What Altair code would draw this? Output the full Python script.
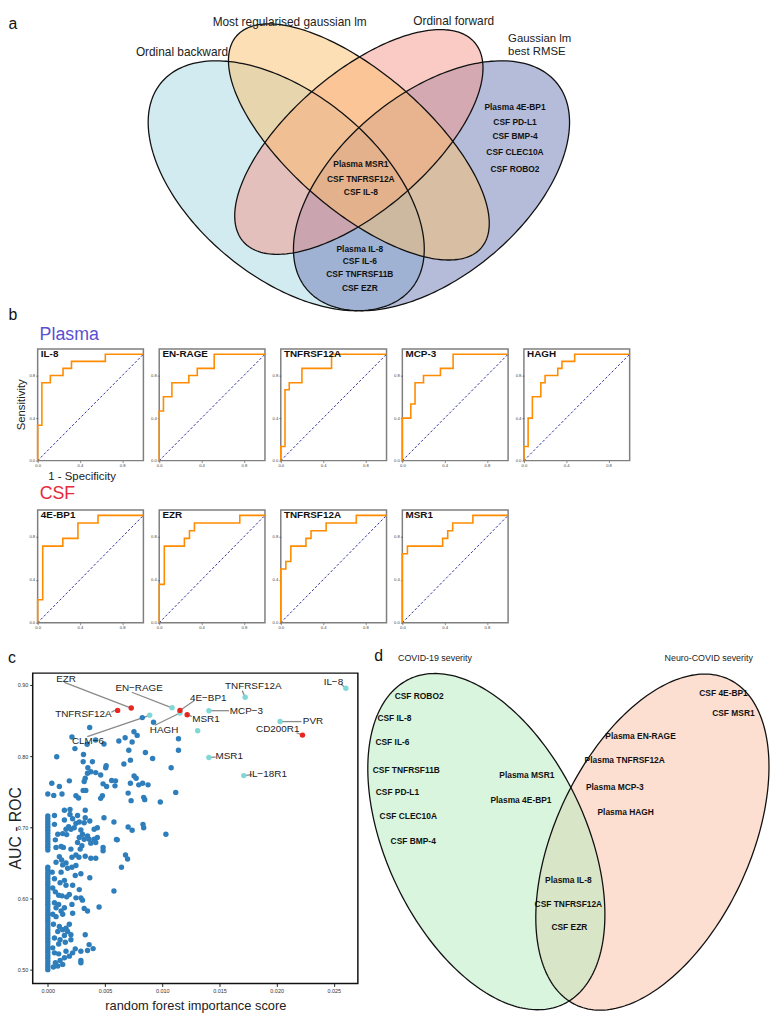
import altair as alt
import numpy as np
import pandas as pd

SANS = "Liberation Sans, Arial, sans-serif"
NARROW = "Liberation Sans Narrow, Liberation Sans, Arial, sans-serif"

# ---------------- panel a : four-set Venn (VennDiagram-style units) ----------------
venn_a_sets = ["Ordinal backward", "Gaussian lm best RMSE", "Ordinal forward", "Most regularised gaussian lm"]
venn_a_cx = [0.35, 0.65, 0.50, 0.50]
venn_a_cy = [0.47, 0.47, 0.57, 0.57]
venn_a_a = [0.35, 0.35, 0.33, 0.35]
venn_a_b = [0.20, 0.20, 0.15, 0.15]
venn_a_rot = [-45, 45, 45, -45]
venn_a_fill = ["#a6d8e2", "#6c79b6", "#f5968a", "#fbc06c"]
venn_a_alpha = [0.5, 0.5, 0.5, 0.5]

venn_a_set_labels = ["Ordinal backward", "Most regularised gaussian lm", "Ordinal forward"]
venn_a_set_x = [0.1347, 0.3571, 0.6959]
venn_a_set_y = [0.7746, 0.8440, 0.8463]
venn_a_rmse_labels = ["Gaussian lm", "best RMSE"]
venn_a_rmse_x = [0.8082, 0.8082]
venn_a_rmse_y = [0.8050, 0.7752]

venn_a_items = ["Plasma MSR1", "CSF TNFRSF12A", "CSF IL-8",
                "Plasma IL-8", "CSF IL-6", "CSF TNFRSF11B", "CSF EZR",
                "Plasma 4E-BP1", "CSF PD-L1", "CSF BMP-4", "CSF CLEC10A", "CSF ROBO2"]
venn_a_item_x = [0.5041, 0.5041, 0.5041, 0.502, 0.502, 0.502, 0.502,
                 0.8224, 0.8224, 0.8224, 0.8224, 0.8224]
venn_a_item_y = [0.5194, 0.4856, 0.4563, 0.3255, 0.2985, 0.2692, 0.2376,
                 0.6501, 0.6163, 0.5825, 0.5464, 0.5081]

# ---------------- panel b : ROC curves ----------------
roc_il8_fpr = [0, 0, 0.04, 0.04, 0.12, 0.12, 0.24, 0.24, 0.32, 0.32, 0.64, 0.64, 1]
roc_il8_tpr = [0, 0.333, 0.333, 0.733, 0.733, 0.8, 0.8, 0.867, 0.867, 0.933, 0.933, 1, 1]
roc_enrage_fpr = [0, 0, 0.04, 0.04, 0.12, 0.12, 0.28, 0.28, 0.36, 0.36, 0.52, 0.52, 1]
roc_enrage_tpr = [0, 0.467, 0.467, 0.6, 0.6, 0.733, 0.733, 0.8, 0.8, 0.867, 0.867, 1, 1]
roc_tnf_p_fpr = [0, 0, 0.04, 0.04, 0.08, 0.08, 0.2, 0.2, 0.48, 0.48, 1]
roc_tnf_p_tpr = [0, 0.133, 0.133, 0.667, 0.667, 0.733, 0.733, 0.867, 0.867, 1, 1]
roc_mcp3_fpr = [0, 0, 0.08, 0.08, 0.12, 0.12, 0.2, 0.2, 0.36, 0.36, 0.48, 0.48, 1]
roc_mcp3_tpr = [0, 0.4, 0.4, 0.533, 0.533, 0.733, 0.733, 0.8, 0.8, 0.867, 0.867, 1, 1]
roc_hagh_fpr = [0, 0, 0.04, 0.04, 0.08, 0.08, 0.16, 0.16, 0.2, 0.2, 0.32, 0.32, 0.36, 0.36, 0.48, 0.48, 1]
roc_hagh_tpr = [0, 0.133, 0.133, 0.4, 0.4, 0.6, 0.6, 0.733, 0.733, 0.8, 0.8, 0.867, 0.867, 0.933, 0.933, 1, 1]

roc_4ebp1_fpr = [0, 0, 0.048, 0.048, 0.238, 0.238, 0.381, 0.381, 0.571, 0.571, 1]
roc_4ebp1_tpr = [0, 0.214, 0.214, 0.714, 0.714, 0.786, 0.786, 0.929, 0.929, 1, 1]
roc_ezr_fpr = [0, 0, 0.048, 0.048, 0.238, 0.238, 0.286, 0.286, 0.333, 0.333, 0.762, 0.762, 1]
roc_ezr_tpr = [0, 0.357, 0.357, 0.714, 0.714, 0.786, 0.786, 0.857, 0.857, 0.929, 0.929, 1, 1]
roc_tnf_c_fpr = [0, 0, 0.048, 0.048, 0.095, 0.095, 0.238, 0.238, 0.286, 0.286, 0.429, 0.429, 0.714, 0.714, 1]
roc_tnf_c_tpr = [0, 0.5, 0.5, 0.571, 0.571, 0.714, 0.714, 0.786, 0.786, 0.857, 0.857, 0.929, 0.929, 1, 1]
roc_msr1_fpr = [0, 0, 0.048, 0.048, 0.381, 0.381, 0.429, 0.429, 0.476, 0.476, 0.667, 0.667, 1]
roc_msr1_tpr = [0, 0.643, 0.643, 0.714, 0.714, 0.786, 0.786, 0.857, 0.857, 0.929, 0.929, 1, 1]

roc_ticks = [0.0, 0.2, 0.4, 0.6, 0.8, 1.0]

# ---------------- panel c : scatter ----------------
blue_points = [
    (0.00211, 0.8269), (0.00237, 0.8106), (0.00312, 0.8023), (0.00078, 0.7991), (0.00390, 0.7921),
    (0.00309, 0.7921), (0.00350, 0.7838), (0.00506, 0.7838), (0.00510, 0.7866), (0.00376, 0.7782),
    (0.00419, 0.7769), (0.00462, 0.7736), (0.00347, 0.7759), (0.00327, 0.7690), (0.00188, 0.7653),
    (0.00035, 0.7620), (0.00101, 0.7574), (0.00318, 0.7644), (0.00309, 0.7519), (0.00332, 0.7519),
    (0.00483, 0.7611), (0.00514, 0.7574), (0.00558, 0.7657), (0.00592, 0.7653), (0.00587, 0.7583),
    (0.00477, 0.7444), (0.00462, 0.7407), (0.00246, 0.7444), (0.00269, 0.7412), (0.00124, 0.7468),
    (0.00052, 0.7449), (0.00000, 0.7468), (0.00665, 0.7889), (0.00708, 0.8083), (0.00737, 0.8199),
    (0.00676, 0.8259), (0.00621, 0.8213), (0.00722, 0.7944), (0.00853, 0.8051), (0.00916, 0.7968),
    (0.00754, 0.7722), (0.00772, 0.7690), (0.00722, 0.7620), (0.00795, 0.7597), (0.00829, 0.7620),
    (0.00876, 0.7597), (0.00702, 0.7481), (0.00728, 0.7375), (0.00838, 0.7421), (0.00847, 0.7389),
    (0.00983, 0.7356), (0.01118, 0.7491), (0.01078, 0.7838), (0.01142, 0.8245), (0.01142, 0.8083),
    (0.00826, 0.8542), (0.00924, 0.8477), (0.00366, 0.8403), (0.00753, 0.8343), (0.00781, 0.8292),
    (0.00344, 0.8167), (0.00491, 0.8171), (0.00418, 0.8227),
    (0.00058, 0.7167), (0.00058, 0.7042), (0.00145, 0.7241), (0.00194, 0.7250), (0.00194, 0.7181),
    (0.00145, 0.7102), (0.00217, 0.7120), (0.00260, 0.7167), (0.00275, 0.7074), (0.00246, 0.7056),
    (0.00182, 0.7009), (0.00159, 0.6972), (0.00202, 0.6972), (0.00231, 0.6995), (0.00327, 0.7241),
    (0.00327, 0.7134), (0.00318, 0.7065), (0.00289, 0.6963), (0.00367, 0.7088), (0.00405, 0.6972),
    (0.00433, 0.6995), (0.00491, 0.7134), (0.00087, 0.6903), (0.00130, 0.6912), (0.00165, 0.6898),
    (0.00066, 0.6824), (0.00116, 0.6731), (0.00072, 0.6718), (0.00136, 0.6718), (0.00303, 0.6903),
    (0.00318, 0.6833), (0.00347, 0.6880), (0.00361, 0.6833), (0.00376, 0.6778), (0.00405, 0.6833),
    (0.00433, 0.6856), (0.00419, 0.6787), (0.00275, 0.6856), (0.00260, 0.6787), (0.00298, 0.6741),
    (0.00202, 0.6694), (0.00283, 0.6694), (0.00483, 0.6718), (0.00483, 0.6671), (0.00578, 0.7074),
    (0.00607, 0.6824), (0.00702, 0.7005), (0.00737, 0.6958), (0.00832, 0.7042), (0.00838, 0.6995),
    (0.01032, 0.6903), (0.00679, 0.6611), (0.00697, 0.6556), (0.00644, 0.6440),
    (0.00101, 0.6588), (0.00121, 0.6542), (0.00072, 0.6509), (0.00130, 0.6472), (0.00159, 0.6500),
    (0.00211, 0.6579), (0.00246, 0.6611), (0.00272, 0.6579), (0.00327, 0.6593), (0.00376, 0.6565),
    (0.00419, 0.6565), (0.00173, 0.6426), (0.00211, 0.6440), (0.00246, 0.6463), (0.00240, 0.6324),
    (0.00289, 0.6347), (0.00367, 0.6292), (0.00038, 0.6370), (0.00058, 0.6278), (0.00116, 0.6370),
    (0.00107, 0.6222), (0.00145, 0.6255), (0.00159, 0.6185), (0.00217, 0.6185), (0.00275, 0.6125),
    (0.00578, 0.6106), (0.00043, 0.6148), (0.00066, 0.6093), (0.00095, 0.6046), (0.00124, 0.6037),
    (0.00165, 0.6023), (0.00188, 0.6055), (0.00246, 0.6009), (0.00289, 0.6009), (0.00211, 0.5917),
    (0.00303, 0.5977), (0.00318, 0.5861), (0.00347, 0.5824), (0.00448, 0.5880), (0.00058, 0.5940),
    (0.00095, 0.5917), (0.00072, 0.5870), (0.00145, 0.5870), (0.00116, 0.5824), (0.00043, 0.5778),
    (0.00072, 0.5745), (0.00130, 0.5778), (0.00217, 0.5792), (0.00049, 0.5639), (0.00101, 0.5606),
    (0.00130, 0.5560), (0.00087, 0.5537), (0.00159, 0.5583), (0.00188, 0.5639), (0.00173, 0.5537),
    (0.00202, 0.5491), (0.00145, 0.5481), (0.00058, 0.5444), (0.00107, 0.5421), (0.00095, 0.5361),
    (0.00153, 0.5384), (0.00202, 0.5421), (0.00327, 0.5491), (0.00361, 0.5352), (0.00396, 0.5296),
    (0.00289, 0.5259), (0.00347, 0.5268), (0.00240, 0.5292), (0.00217, 0.5236), (0.00188, 0.5190),
    (0.00145, 0.5167), (0.00107, 0.5130), (0.00066, 0.5097), (0.00049, 0.5037), (0.00087, 0.5051),
    (0.00130, 0.5074), (0.00289, 0.5130), (0.00289, 0.5097), (0.00043, 0.5306), (0.00058, 0.5236),
    (0.00095, 0.5222), (0.00159, 0.5259), (0.00600, 0.6829),
]
zero_importance_auc = [
    0.500, 0.504, 0.508, 0.512, 0.516, 0.520, 0.524, 0.528, 0.532, 0.536, 0.540, 0.544, 0.548,
    0.552, 0.556, 0.560, 0.564, 0.568, 0.572, 0.576, 0.580, 0.584, 0.588, 0.592, 0.596, 0.600,
    0.604, 0.608, 0.612, 0.616, 0.620, 0.624, 0.628, 0.632, 0.636, 0.640, 0.644, 0.668, 0.672,
    0.676, 0.680, 0.684, 0.688, 0.692, 0.696, 0.700, 0.704, 0.708, 0.712, 0.716,
]
cyan_points = [(0.01086, 0.8680), (0.01155, 0.8607), (0.00890, 0.8574), (0.01310, 0.8357),
               (0.01408, 0.8639), (0.01725, 0.8829), (0.02605, 0.8954), (0.02030, 0.8486),
               (0.01408, 0.7982), (0.01713, 0.7727)]
red_points = [(0.00729, 0.8676), (0.00610, 0.8643), (0.01155, 0.8643), (0.01218, 0.8583), (0.02226, 0.8296)]

lab_text = ["EZR", "EN\u2212RAGE", "TNFRSF12A", "4E\u2212BP1", "HAGH", "MSR1", "MCP\u22123",
            "TNFRSF12A", "IL\u22128", "PVR", "CD200R1", "MSR1", "IL\u221218R1", "CLM\u22126"]
lab_x = [0.00159, 0.00798, 0.00311, 0.01402, 0.01016, 0.01382, 0.01736,
         0.01796, 0.02496, 0.02318, 0.02010, 0.01586, 0.01926, 0.00351]
lab_y = [0.9083, 0.8958, 0.8588, 0.8820, 0.8365, 0.8518, 0.8639,
         0.8990, 0.9037, 0.8496, 0.8379, 0.8004, 0.7750, 0.8218]
arr_x0 = [0.00144, 0.00734, 0.00555, 0.01281, 0.00936, 0.01258, 0.01584,
          0.01699, 0.02562, 0.02217, 0.02174, 0.01468, 0.01785, 0.00345]
arr_y0 = [0.9037, 0.8898, 0.8617, 0.8782, 0.8435, 0.8560, 0.8639,
          0.8921, 0.9014, 0.8486, 0.8329, 0.7986, 0.7741, 0.8274]
arr_x1 = [0.00729, 0.01086, 0.00585, 0.01155, 0.01155, 0.01218, 0.01408,
          0.01725, 0.02605, 0.02030, 0.02226, 0.01408, 0.01713, 0.00890]
arr_y1 = [0.8676, 0.8680, 0.8643, 0.8643, 0.8607, 0.8583, 0.8639,
          0.8829, 0.8954, 0.8486, 0.8296, 0.7982, 0.7727, 0.8574]

# ---------------- panel d : two-set Venn (layout units) ----------------
venn_d_sets = ["Neuro-COVID severity", "COVID-19 severity"]
venn_d_cx = [660, 492]
venn_d_cy = [840, 839.5]
venn_d_a = [182, 182]
venn_d_b = [98.5, 101]
venn_d_rot = [115.1, 64.7]
venn_d_fill = ["#fbbfa5", "#b4ecbc"]
venn_d_alpha = [0.5, 0.5]
venn_d_titles = ["COVID-19 severity", "Neuro-COVID severity"]
venn_d_items = ["CSF ROBO2", "CSF IL-8", "CSF IL-6", "CSF TNFRSF11B", "CSF PD-L1", "CSF CLEC10A",
                "CSF BMP-4", "Plasma MSR1", "Plasma 4E-BP1", "Plasma IL-8", "CSF TNFRSF12A", "CSF EZR",
                "CSF 4E-BP1", "CSF MSR1", "Plasma EN-RAGE", "Plasma TNFRSF12A", "Plasma MCP-3", "Plasma HAGH"]
venn_d_item_x = [424, 399, 397, 411, 402, 413, 418, 533, 527, 575, 575, 576, 732, 742, 648, 632, 622, 633]
venn_d_item_y = [692, 714, 739, 767, 789, 814, 839, 772, 797, 878, 903, 926, 689, 709, 733, 757, 784, 810]


# ---------------- helpers ----------------
def sc(lo, hi, reverse=False):
    return alt.Scale(domain=[lo, hi], nice=False, zero=False, reverse=reverse)


def ellipse_df(cx, cy, a, b, rot):
    t = np.linspace(0, 2 * np.pi, 241)
    ph = np.deg2rad(rot)
    return pd.DataFrame({
        "x": cx + a * np.cos(t) * np.cos(ph) - b * np.sin(t) * np.sin(ph),
        "y": cy + a * np.cos(t) * np.sin(ph) + b * np.sin(t) * np.cos(ph),
        "k": np.arange(len(t)),
    })


def ellipse_layers(cxs, cys, As, Bs, rots, fills, alphas, xs, ys):
    fl, ol = [], []
    for cx, cy, a, b, r, f, al in zip(cxs, cys, As, Bs, rots, fills, alphas):
        d = ellipse_df(cx, cy, a, b, r)
        enc = dict(x=alt.X("x:Q", scale=xs, axis=None), y=alt.Y("y:Q", scale=ys, axis=None), order="k:Q")
        fl.append(alt.Chart(d).mark_line(fill=f, fillOpacity=al, strokeWidth=0).encode(**enc))
        ol.append(alt.Chart(d).mark_line(stroke="#111111", strokeWidth=1.3, strokeJoin="round").encode(**enc))
    return fl + ol


def text_layer(labels, xs_, ys_, xs, ys, **mk):
    d = pd.DataFrame({"t": labels, "x": xs_, "y": ys_})
    return alt.Chart(d).mark_text(**mk).encode(
        x=alt.X("x:Q", scale=xs, axis=None), y=alt.Y("y:Q", scale=ys, axis=None), text="t:N")


def spacer(w, h, labels=None, lx=None, ly=None, **mk):
    xs, ys = sc(0, w), sc(0, h, reverse=True)
    if labels:
        ch = text_layer(labels, lx, ly, xs, ys, **mk)
    else:
        ch = alt.Chart(pd.DataFrame({"x": [w / 2], "y": [h / 2]})).mark_point(opacity=0, size=1).encode(
            x=alt.X("x:Q", scale=xs, axis=None), y=alt.Y("y:Q", scale=ys, axis=None))
    return ch.properties(width=w, height=h)


# ---------------- row A (panel a, plus "b" / "Plasma") ----------------
ax = sc(-0.2245, 1.3306)
ay = sc(0.1001, 0.8553)
rowA = alt.layer(
    *ellipse_layers(venn_a_cx, venn_a_cy, venn_a_a, venn_a_b, venn_a_rot, venn_a_fill, venn_a_alpha, ax, ay),
    text_layer(venn_a_set_labels, venn_a_set_x, venn_a_set_y, ax, ay,
               font=NARROW, fontSize=12, color="#222222"),
    text_layer(venn_a_rmse_labels, venn_a_rmse_x, venn_a_rmse_y, ax, ay,
               font=NARROW, fontSize=11.5, color="#222222", align="left"),
    text_layer(venn_a_items, venn_a_item_x, venn_a_item_y, ax, ay,
               font=NARROW, fontSize=8.5, fontWeight="bold", color="#111111"),
    text_layer(["a", "b"], [-0.2143, -0.2143], [0.8395, 0.1745], ax, ay,
               font=SANS, fontSize=16, color="#111111"),
    text_layer(["Plasma"], [-0.1592], [0.1294], ax, ay,
               font=SANS, fontSize=18, color="#5b50d0", align="left"),
).properties(width=762, height=335)


# ---------------- ROC panels ----------------
def roc_panel(title, fpr, tpr, h):
    xs = sc(0, 1)
    ys = sc(0, 1.05)
    axis_kw = dict(values=roc_ticks, format=".1f", labelFontSize=4.2, tickSize=2, tickWidth=0.6,
                   labelPadding=1, domain=False, grid=False, labelColor="#444444", tickColor="#444444",
                   labelOverlap=False, labelFlush=False)
    curve = alt.Chart(pd.DataFrame({"fpr": fpr, "tpr": tpr, "k": list(range(len(fpr)))})).mark_line(
        color="#ff8c00", strokeWidth=1.6).encode(
        x=alt.X("fpr:Q", scale=xs, axis=alt.Axis(**axis_kw), title=None),
        y=alt.Y("tpr:Q", scale=ys, axis=alt.Axis(**axis_kw), title=None),
        order="k:Q")
    diag = alt.Chart(pd.DataFrame({"fpr": [0, 1], "tpr": [0, 1]})).mark_line(
        color="#2f2fa0", strokeDash=[2.5, 2], strokeWidth=1).encode(
        x=alt.X("fpr:Q", scale=xs), y=alt.Y("tpr:Q", scale=ys))
    lab = alt.Chart(pd.DataFrame({"fpr": [0.03], "tpr": [1.0], "t": [title]})).mark_text(
        align="left", baseline="middle", fontWeight="bold", fontSize=10, font=SANS, color="#111111").encode(
        x=alt.X("fpr:Q", scale=xs), y=alt.Y("tpr:Q", scale=ys), text="t:N")
    return alt.layer(diag, curve, lab).properties(
        width=107, height=h, view=alt.ViewBackground(stroke="#7f7f7f", strokeWidth=1.5))


rowB = alt.hconcat(
    spacer(14, 113, ["Sensitivity"], [14], [56.5], font=SANS, fontSize=11.5, angle=270, color="#222222"),
    roc_panel("IL-8", roc_il8_fpr, roc_il8_tpr, 113),
    roc_panel("EN-RAGE", roc_enrage_fpr, roc_enrage_tpr, 113),
    roc_panel("TNFRSF12A", roc_tnf_p_fpr, roc_tnf_p_tpr, 113),
    roc_panel("MCP-3", roc_mcp3_fpr, roc_mcp3_tpr, 113),
    roc_panel("HAGH", roc_hagh_fpr, roc_hagh_tpr, 113),
    spacing=16, bounds="flush")

# row C starts below the x-axis labels of row B (about 8 px below its plot areas)
cx_, cy_ = sc(0, 762), sc(0, 41, reverse=True)
rowC = alt.layer(
    text_layer(["1 - Specificity"], [75], [9], cx_, cy_, font=SANS, fontSize=11.5, color="#222222"),
    text_layer(["CSF"], [32], [26], cx_, cy_, font=SANS, fontSize=18, color="#e8283c", align="left"),
).properties(width=762, height=41)

rowD = alt.hconcat(
    spacer(14, 114),
    roc_panel("4E-BP1", roc_4ebp1_fpr, roc_4ebp1_tpr, 114),
    roc_panel("EZR", roc_ezr_fpr, roc_ezr_tpr, 114),
    roc_panel("TNFRSF12A", roc_tnf_c_fpr, roc_tnf_c_tpr, 114),
    roc_panel("MSR1", roc_msr1_fpr, roc_msr1_tpr, 114),
    spacing=16, bounds="flush")

ex_, ey_ = sc(0, 762), sc(0, 42, reverse=True)
rowE = alt.layer(
    text_layer(["c", "d"], [4, 375], [28, 26], ex_, ey_, font=SANS, fontSize=16, color="#111111"),
    text_layer(venn_d_titles, [432, 709], [28, 28], ex_, ey_, font=NARROW, fontSize=9, color="#222222"),
).properties(width=762, height=42)

# ---------------- scatter (panel c) ----------------
sxs = sc(-0.00132, 0.0271)
sys_ = sc(0.4806, 0.9167)
blue_df = pd.DataFrame(blue_points + [(0.0, v) for v in zero_importance_auc], columns=["rf", "auc"])
cyan_df = pd.DataFrame(cyan_points, columns=["rf", "auc"])
red_df = pd.DataFrame(red_points, columns=["rf", "auc"])
xaxis = alt.Axis(values=[0, 0.005, 0.01, 0.015, 0.02, 0.025], format=".3f", labelFontSize=5.5,
                 tickSize=3, domain=False, grid=False, labelColor="#333333", tickColor="#222222",
                 labelOverlap=False, labelFlush=False,
                 title="random forest importance score", titleFontSize=13, titleFont=NARROW,
                 titleFontWeight="normal", titleColor="#222222", titlePadding=6)
yaxis = alt.Axis(values=[0.5, 0.55, 0.6, 0.65, 0.7, 0.75, 0.8, 0.85, 0.9], format=".2f", labelFontSize=5.5,
                 tickSize=3, domain=False, grid=False, labelColor="#333333", tickColor="#222222",
                 labelOverlap=False, labelFlush=False, title=None)
pts_blue = alt.Chart(blue_df).mark_circle(size=30, color="#2f7ebc", opacity=1).encode(
    x=alt.X("rf:Q", scale=sxs, axis=xaxis), y=alt.Y("auc:Q", scale=sys_, axis=yaxis))
pts_cyan = alt.Chart(cyan_df).mark_circle(size=30, color="#80d8d6", opacity=1).encode(
    x=alt.X("rf:Q", scale=sxs), y=alt.Y("auc:Q", scale=sys_))
pts_red = alt.Chart(red_df).mark_circle(size=30, color="#e8251f", opacity=1).encode(
    x=alt.X("rf:Q", scale=sxs), y=alt.Y("auc:Q", scale=sys_))
arrows = alt.Chart(pd.DataFrame({"x0": arr_x0, "y0": arr_y0, "x1": arr_x1, "y1": arr_y1})).mark_rule(
    color="#8a8a8a", strokeWidth=1.3).encode(
    x=alt.X("x0:Q", scale=sxs), y=alt.Y("y0:Q", scale=sys_), x2="x1:Q", y2="y1:Q")
labels = alt.Chart(pd.DataFrame({"t": lab_text, "x": lab_x, "y": lab_y})).mark_text(
    font=SANS, fontSize=10, color="#222222").encode(
    x=alt.X("x:Q", scale=sxs), y=alt.Y("y:Q", scale=sys_), text="t:N")
scatter = alt.layer(arrows, pts_blue, pts_cyan, pts_red, labels).properties(
    width=329, height=314, view=alt.ViewBackground(stroke="#111111", strokeWidth=1.5))

# ---------------- panel d ----------------
dx = sc(362, 770)
dy = sc(669, 999, reverse=True)
vennd = alt.layer(
    *ellipse_layers(venn_d_cx, venn_d_cy, venn_d_a, venn_d_b, venn_d_rot, venn_d_fill, venn_d_alpha, dx, dy),
    text_layer(venn_d_items, venn_d_item_x, venn_d_item_y, dx, dy, font=NARROW, fontSize=8.5,
               fontWeight="bold", color="#111111"),
).properties(width=408, height=330)

rowF = alt.hconcat(
    spacer(25, 330, ["AUC - ROC"], [8], [157], font=NARROW, fontSize=16, angle=270, color="#222222"),
    scatter, vennd, spacing=0, bounds="flush")

chart = alt.vconcat(rowA, rowB, rowC, rowD, rowE, rowF, spacing=0, padding=0).configure_view(
    strokeWidth=0).configure_axis(labelFont=SANS, titleFont=SANS)

chart.save("out.html", embed_options={"renderer": "svg", "actions": False})
